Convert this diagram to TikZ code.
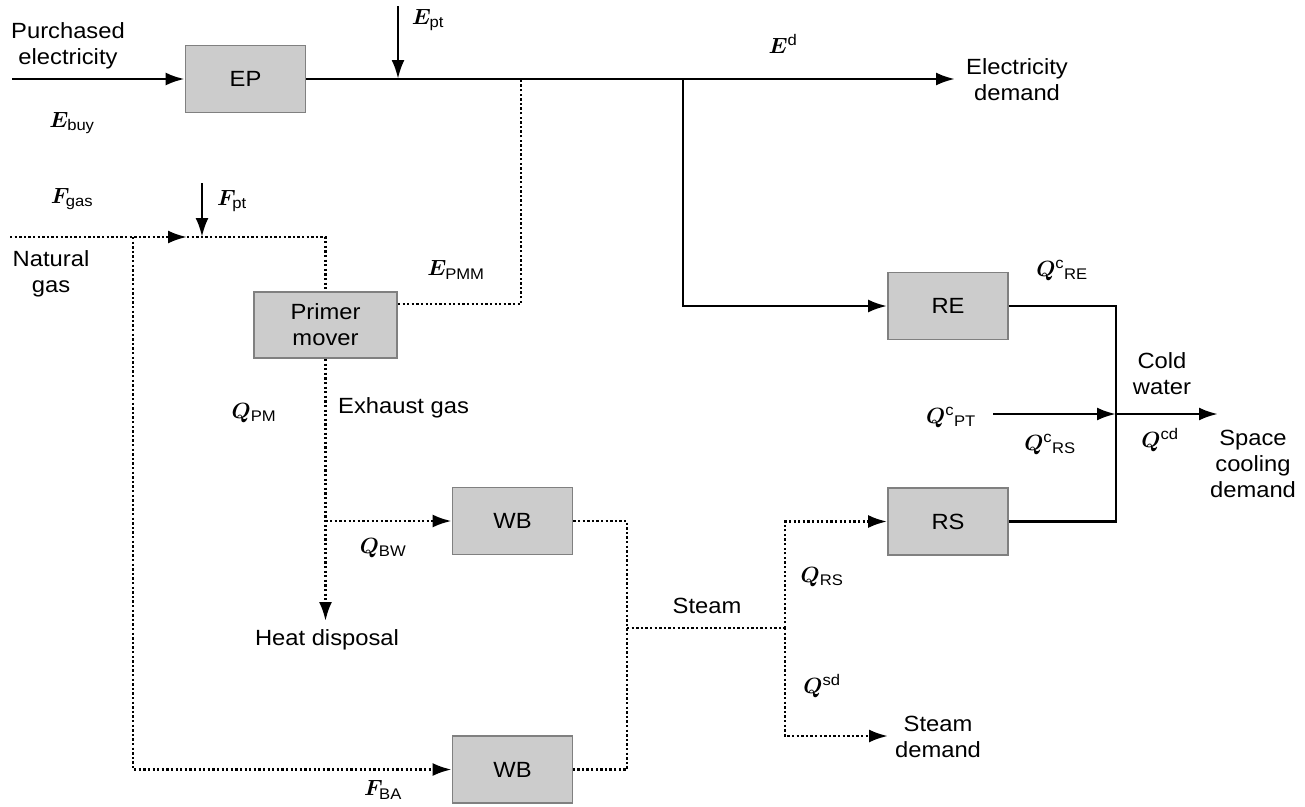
\RequirePackage{fix-cm}
\documentclass[tikz,border=0pt]{standalone}
\usepackage{amsmath}
\usepackage{fontspec}
\setmainfont{Liberation Sans}[FakeStretch=1.08]
\usetikzlibrary{arrows.meta}
\definecolor{boxfill}{RGB}{204,204,204}
\definecolor{boxline}{RGB}{128,128,128}
\begin{document}
\begin{tikzpicture}[x=1pt,y=-1pt,
  font=\fontsize{22}{26}\selectfont,
  box/.style={draw=boxline, fill=boxfill, line width=1.8pt, minimum width=120pt, minimum height=67pt, inner sep=0pt, align=center},
  sline/.style={line width=2.8pt, line join=miter},
  dline/.style={line width=2.7pt, dash pattern=on 2.3pt off 2.3pt},
  arr/.style={-{Latex[length=19pt,width=13pt]}},
  lbl/.style={inner sep=0pt, align=center},
  mlbl/.style={inner sep=0pt, font=\fontsize{22}{26}\selectfont\boldmath}]
\useasboundingbox (0,0) rectangle (1305,806);

% boxes
\node[box] (EP) at (245.5,79) {EP};
\node[box, minimum width=143pt, minimum height=66pt] (PM) at (325.5,325) {Primer\\mover};
\node[box] (RE) at (948,306) {RE};
\node[box] (RS) at (948,521.5) {RS};
\node[box] (WB1) at (512.5,521) {WB};
\node[box] (WB2) at (512.5,769.5) {WB};

% coordinates
\coordinate (pin) at (12,79);
\coordinate (edem) at (955,79);
\coordinate (eptTop) at (398,6);
\coordinate (eptJ) at (398,79);
\coordinate (pmmJ) at (521,79);
\coordinate (pmmC) at (521,304);
\coordinate (reJ) at (683,79);
\coordinate (cwJ) at (1116,414);
\coordinate (qpt) at (993,414);
\coordinate (cdem) at (1218,414);
\coordinate (gin) at (10,237);
\coordinate (gsplit) at (133,237);
\coordinate (garr) at (187,237);
\coordinate (fptJ) at (202,237);
\coordinate (fptTop) at (202,183);
\coordinate (hd) at (325.5,621);
\coordinate (stJ) at (627,628);
\coordinate (stK) at (785,628);
\coordinate (sdem) at (888,736);

% electricity
\draw[sline,arr] (pin) -- (EP.west);
\draw[sline,arr] (EP.east) -- (edem);
\draw[sline,arr] (eptTop) -- (eptJ);
\draw[dline] (PM.east |- pmmC) -- (pmmC) -- (pmmJ);
\draw[sline,arr] (reJ) |- (RE.west);
\draw[sline] (RE.east) -| (cwJ) |- (RS.east);
\draw[sline,arr] (qpt) -- (cwJ);
\draw[sline,arr] (cwJ) -- (cdem);

% gas and heat
\draw[dline,arr] (gin) -- (garr);
\draw[dline] (garr) -| (PM.north);
\draw[sline,arr] (fptTop) -- (fptJ);
\draw[dline,arr] (gsplit) |- (WB2.west);
\draw[dline,arr] (PM.south) -- (hd);
\draw[dline,arr] (PM.south |- WB1.west) -- (WB1.west);
\draw[dline] (WB1.east) -| (stJ) |- (WB2.east);
\draw[dline] (stJ) -- (stK);
\draw[dline,arr] (stK) |- (RS.west);
\draw[dline,arr] (stK) |- (sdem);

% labels
\node[lbl] (tPurch) at (68,46) {Purchased\\electricity};
\node[mlbl] (tEbuy) at (72,123) {$E_{\text{buy}}$};
\node[mlbl] (tEpt) at (428,20) {$E_{\text{pt}}$};
\node[mlbl] (tEd) at (783,44) {$E^{\text{d}}$};
\node[lbl] (tEdem) at (1017,80) {Electricity\\demand};
\node[mlbl] (tFgas) at (72,199) {$F_{\text{gas}}$};
\node[mlbl] (tFpt) at (232,201) {$F_{\text{pt}}$};
\node[lbl] (tNat) at (51,274) {Natural\\gas};
\node[mlbl] (tEpmm) at (456,270) {$E_{\text{PMM}}$};
\node[mlbl] (tQpm) at (254,413) {$Q_{\text{PM}}$};
\node[lbl, anchor=west] (tExh) at (338,408) {Exhaust gas};
\node[mlbl] (tQbw) at (383,548) {$Q_{\text{BW}}$};
\node[lbl] (tHeat) at (327,640) {Heat disposal};
\node[mlbl] (tFba) at (383,790) {$F_{\text{BA}}$};
\node[lbl] (tSteam) at (707,606) {Steam};
\node[mlbl] (tQrs) at (822,577) {$Q_{\text{RS}}$};
\node[mlbl] (tQsd) at (822,686) {$Q^{\text{sd}}$};
\node[lbl] (tSdem) at (938,737) {Steam\\demand};
\node[mlbl] (tQcre) at (1062,270) {$Q^{\text{c}}{}_{\text{RE}}$};
\node[lbl] (tCold) at (1162,374) {Cold\\water};
\node[mlbl] (tQcpt) at (951,417) {$Q^{\text{c}}{}_{\text{PT}}$};
\node[mlbl] (tQcrs) at (1050,444) {$Q^{\text{c}}{}_{\text{RS}}$};
\node[mlbl] (tQcd) at (1160,440) {$Q^{\text{cd}}$};
\node[lbl] (tSpace) at (1253,464) {Space\\cooling\\demand};
\end{tikzpicture}
\end{document}
